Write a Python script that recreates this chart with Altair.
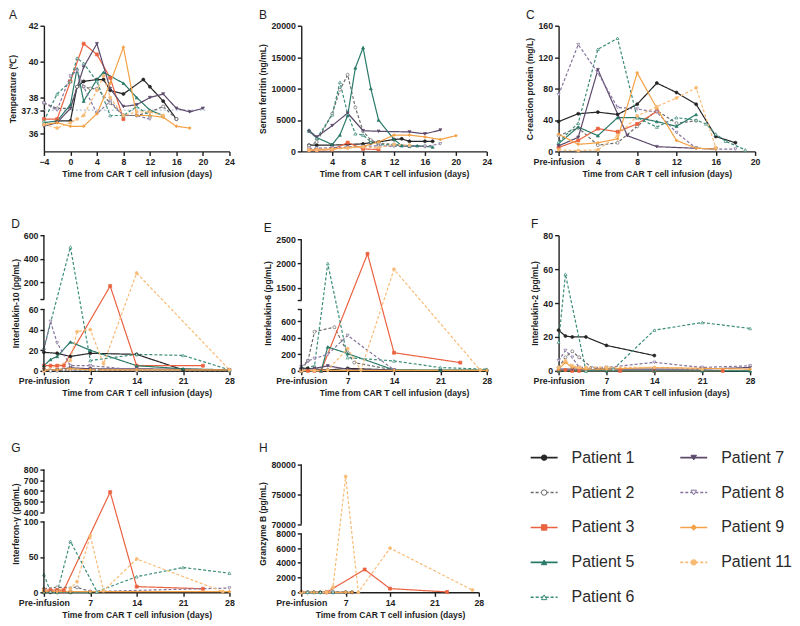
import altair as alt
import pandas as pd

FONT = "Liberation Sans"
INK = "#1e1e1e"

PATIENTS = ["Patient 1", "Patient 2", "Patient 3", "Patient 5", "Patient 6",
            "Patient 7", "Patient 8", "Patient 9", "Patient 11"]
LINE_COLORS = ["#262626", "#6b6b6b", "#ea6240", "#2a7a68", "#3a8c79",
               "#5c4a6c", "#84739c", "#f4a246", "#f8bb76"]
FILL_COLORS = ["#262626", "#ffffff", "#ea6240", "#2a7a68", "#ffffff",
               "#5c4a6c", "#ffffff", "#f4a246", "#f8bb76"]
SHAPES = ["circle", "circle", "square", "triangle-up", "triangle-up",
          "triangle-down", "triangle-down", "diamond", "circle"]
DASHES = [[1, 0], [3, 2], [1, 0], [1, 0], [3, 2], [1, 0], [3, 2], [1, 0], [3, 2]]

X_TITLE = "Time from CAR T cell infusion (days)"

# ---------------- data (days, values) ----------------
TEMP = {
    "Patient 1": ([-2, 0, 1, 2, 4, 5, 6, 8, 11, 12, 14, 16],
                  [36.7, 36.7, 38.6, 38.9, 39.0, 39.0, 38.4, 38.2, 39.0, 38.6, 37.8, 36.8]),
    "Patient 2": ([-4, -2, 0, 1, 2, 3, 4, 6, 8, 10, 12, 14, 16],
                  [37.7, 37.4, 37.4, 38.6, 38.6, 38.5, 38.5, 37.7, 37.0, 37.0, 37.2, 37.5, 36.8]),
    "Patient 3": ([-4, -2, 0, 2, 4, 6, 8],
                  [36.8, 36.8, 38.9, 41.0, 40.4, 39.1, 36.8]),
    "Patient 5": ([-4, -2, 0, 1, 2, 4, 5, 8, 10, 12, 14],
                  [36.6, 36.7, 37.6, 39.6, 37.8, 39.0, 39.4, 38.8, 38.0, 37.3, 37.0]),
    "Patient 6": ([-4, -2, 0, 1, 2, 4, 6, 8, 10, 12],
                  [36.7, 38.2, 38.9, 40.2, 39.9, 38.9, 37.0, 37.0, 37.5, 37.0]),
    "Patient 7": ([-4, -2, 0, 2, 4, 6, 8, 10, 12, 14, 16, 18, 20],
                  [36.4, 36.6, 37.4, 39.7, 41.0, 38.5, 37.5, 37.6, 38.0, 38.2, 37.4, 37.2, 37.4]),
    "Patient 8": ([-4, -2, 0, 1, 2, 4, 6, 8, 10, 12],
                  [37.7, 37.3, 39.2, 39.5, 38.6, 37.1, 37.8, 37.0, 37.0, 36.8]),
    "Patient 9": ([-4, -2, 0, 2, 4, 6, 8, 10, 12, 14, 16, 18],
                  [36.5, 36.6, 36.4, 36.4, 37.1, 38.8, 40.8, 37.0, 37.0, 36.9, 36.4, 36.3]),
    "Patient 11": ([-4, -2, 0, 1, 2, 4, 5, 6, 8, 10, 12, 14],
                   [36.5, 36.3, 36.6, 36.8, 37.0, 38.4, 39.2, 38.0, 37.0, 37.2, 37.2, 37.0]),
}
FERRITIN = {
    "Patient 1": ([1, 2, 4, 6, 8, 9, 10, 12, 13, 14, 16, 17],
                  [1000, 1000, 1000, 1100, 1200, 1400, 1500, 1900, 2000, 1600, 1600, 1600]),
    "Patient 2": ([1, 2, 4, 5, 6, 7, 8, 9, 10, 12, 14, 16],
                  [900, 1500, 6000, 9800, 12200, 7000, 3200, 1800, 1300, 1100, 900, 800]),
    "Patient 3": ([1, 2, 4, 6, 8, 10], [200, 200, 300, 1400, 400, 300]),
    "Patient 5": ([1, 2, 4, 5, 6, 7, 8, 9, 10, 12, 13, 14, 15, 17],
                  [3400, 2200, 1100, 2600, 5700, 13300, 16500, 10000, 5000, 1900, 900, 800, 900, 700]),
    "Patient 6": ([1, 2, 4, 5, 6, 7, 8, 9, 10, 12, 14],
                  [3200, 2100, 5800, 11000, 6000, 2800, 2600, 1500, 1100, 1000, 900]),
    "Patient 7": ([1, 2, 4, 6, 8, 10, 14, 16, 18],
                  [3200, 2300, 4100, 6100, 3300, 3200, 3100, 2800, 3400]),
    "Patient 8": ([1, 2, 4, 6, 8, 10, 12, 14, 16, 18],
                  [500, 500, 600, 700, 800, 900, 800, 800, 800, 1200]),
    "Patient 9": ([1, 2, 4, 6, 8, 10, 12, 14, 16, 18, 20],
                  [300, 300, 400, 600, 800, 1500, 2600, 2600, 2300, 1900, 2500]),
    "Patient 11": ([1, 2, 4, 6, 8, 10, 12, 14],
                   [200, 200, 300, 500, 700, 600, 1100, 1000]),
}
CRP = {
    "Patient 1": ([0, 2, 4, 6, 8, 10, 12, 14, 16, 18], [38, 48, 50, 47, 60, 87, 75, 60, 19, 11]),
    "Patient 2": ([0, 2, 4, 6, 8, 10, 12, 14], [20, 30, 8, 11, 32, 52, 36, 39]),
    "Patient 3": ([0, 2, 4, 6, 8, 10], [5, 14, 29, 25, 35, 51]),
    "Patient 5": ([0, 2, 4, 6, 8, 10, 12, 14], [10, 31, 20, 43, 43, 38, 32, 47]),
    "Patient 6": ([0, 2, 4, 6, 8, 10, 12, 14, 15, 16, 17, 19],
                  [12, 36, 130, 144, 43, 31, 43, 40, 35, 22, 13, 2]),
    "Patient 7": ([0, 2, 4, 7, 10, 14, 16], [7, 18, 104, 20, 6, 4, 3]),
    "Patient 8": ([0, 2, 4, 6, 8, 10, 12, 14, 16, 18], [72, 136, 100, 56, 54, 50, 24, 4, 3, 3]),
    "Patient 9": ([0, 2, 4, 6, 8, 10, 12, 14, 16], [22, 9, 11, 16, 100, 55, 14, 4, 3]),
    "Patient 11": ([0, 2, 4, 6, 8, 10, 12, 14, 16], [2, 1, 2, 20, 45, 57, 68, 81, 5]),
}
IL10 = {
    "Patient 1": ([0, 2, 4, 7, 14, 21, 28], [18, 17, 14, 17, 16, 1, 1]),
    "Patient 2": ([0, 1, 2, 3, 4, 7, 8, 14, 28], [0, 0, 0, 1, 1, 1, 1, 0, 0]),
    "Patient 3": ([0, 1, 2, 3, 10, 14, 24], [5, 5, 5, 5, 170, 5, 5]),
    "Patient 5": ([0, 1, 2, 4, 7, 14, 21, 28], [5, 11, 14, 28, 20, 5, 2, 1]),
    "Patient 6": ([0, 4, 7, 14, 21, 28], [22, 500, 10, 16, 15, 1]),
    "Patient 7": ([0, 2, 4, 7, 14, 28], [1, 1, 3, 2, 2, 1]),
    "Patient 8": ([0, 1, 2, 4, 7, 14], [20, 48, 27, 5, 5, 1]),
    "Patient 9": ([0, 2, 4, 7, 14, 28], [1, 1, 2, 1, 1, 1]),
    "Patient 11": ([0, 4, 5, 7, 9, 14, 28], [0, 10, 38, 40, 7, 280, 1]),
}
IL6 = {
    "Patient 1": ([0, 1, 4, 7, 14, 21, 28], [30, 30, 10, 30, 10, 5, 5]),
    "Patient 2": ([0, 1, 2, 5, 7, 8, 14], [20, 120, 475, 530, 220, 100, 10]),
    "Patient 3": ([0, 1, 2, 3, 10, 14, 24], [0, 0, 0, 0, 2200, 220, 100]),
    "Patient 5": ([0, 3, 4, 7, 14, 21, 28], [0, 0, 290, 210, 10, 10, 10]),
    "Patient 6": ([0, 2, 4, 7, 14, 21, 28], [30, 60, 2000, 160, 120, 40, 20]),
    "Patient 7": ([0, 2, 4, 7, 14], [20, 30, 60, 20, 10]),
    "Patient 8": ([0, 1, 2, 4, 7, 14], [50, 120, 150, 200, 430, 10]),
    "Patient 9": ([0, 2, 4, 7, 14, 28], [5, 5, 5, 5, 5, 5]),
    "Patient 11": ([0, 2, 4, 7, 9, 14, 27], [0, 0, 10, 270, 10, 1880, 10]),
}
IL2 = {
    "Patient 1": ([0, 1, 2, 4, 7, 14], [24, 20.5, 20, 20, 15, 9]),
    "Patient 2": ([0, 1, 2, 3, 5, 7, 8], [2, 8, 11.5, 8, 1.5, 1, 1]),
    "Patient 3": ([0, 1, 2, 3, 9, 14, 24], [0, 0.5, 0, 0, 0, 0, 0]),
    "Patient 5": ([0, 4, 7, 14, 21, 28], [0, 0, 0, 0, 0, 0]),
    "Patient 6": ([0, 1, 4, 8, 14, 21, 28], [17, 57, 0, 1, 24, 28.5, 25]),
    "Patient 7": ([0, 2, 7, 14, 21, 28], [1, 1, 1, 1, 1, 2]),
    "Patient 8": ([0, 1, 2, 3, 7, 14, 21, 28], [6, 12, 8, 2, 2, 5, 2, 3]),
    "Patient 9": ([0, 1, 2, 4, 7, 14, 28], [1, 5, 2, 1, 1, 2, 1]),
    "Patient 11": ([0, 1, 2, 3, 4, 7, 14, 21], [2, 6, 3, 2, 2, 2, 2, 1]),
}
IFNG = {
    "Patient 1": ([0, 1, 2, 4, 7], [0, 0, 0, 0, 0]),
    "Patient 2": ([0, 2, 5, 7], [5, 7, 7, 1]),
    "Patient 3": ([0, 1, 2, 3, 10, 14, 24], [3, 3, 3, 3, 590, 8, 5]),
    "Patient 5": ([0, 2, 4, 7], [0, 0, 0, 0]),
    "Patient 6": ([0, 1, 2, 4, 8, 14, 21, 28], [25, 1, 0, 72, 1, 22, 35, 27]),
    "Patient 8": ([0, 2, 4, 7, 28], [1, 1, 1, 1, 6]),
    "Patient 9": ([0, 2, 4, 7, 28], [1, 1, 1, 1, 1]),
    "Patient 11": ([0, 4, 5, 7, 9, 14, 27], [3, 5, 15, 80, 2, 47, 1]),
}
GZMB = {
    "Patient 1": ([0, 1, 2, 3, 5, 7, 8], [0, 0, 0, 0, 0, 0, 0]),
    "Patient 2": ([0, 1, 2, 4, 5, 7], [0, 0, 0, 0, 100, 0]),
    "Patient 3": ([0, 4, 10, 14, 23], [0, 0, 3100, 500, 50]),
    "Patient 6": ([0, 1, 2, 3, 5], [0, 0, 0, 0, 0]),
    "Patient 9": ([0, 2, 4, 7, 8], [0, 0, 0, 0, 0]),
    "Patient 11": ([0, 4, 5, 7, 9, 14, 27], [0, 0, 700, 78000, 0, 6000, 300]),
}

# tick labels
A_XTICKS = [-4, 0, 4, 8, 12, 16, 20, 24]
A_YTICKS = [36, 37.3, 38, 40, 42]
B_XTICKS = [4, 8, 12, 16, 20, 24]
B_YTICKS = [0, 5000, 10000, 15000, 20000]
C_XTICKS = [0, 4, 8, 12, 16, 20]
C_YTICKS = [0, 40, 80, 120, 160]
W_XTICKS = [0, 7, 14, 21, 28]
F_YTICKS = [0, 20, 40, 60, 80]
IL10_LOW = [("0", 0), ("20", 20), ("40", 40), ("60", 60)]
IL10_UP = [("", 60), ("200", 200), ("400", 400), ("600", 600)]
IL6_LOW = [("0", 0), ("200", 200), ("400", 400), ("600", 600), ("", 750)]
IL6_UP = [("", 1250), ("1500", 1500), ("2000", 2000), ("2500", 2500)]
IFNG_LOW = [("0", 0), ("50", 50), ("100", 100)]
IFNG_UP = [("400", 400), ("500", 500), ("600", 600), ("700", 700), ("800", 800)]
GZMB_LOW = [("0", 0), ("2000", 2000), ("4000", 4000), ("6000", 6000), ("8000", 8000)]
GZMB_UP = [("70000", 70000), ("75000", 75000), ("80000", 80000)]

PRE_EXPR = "datum.value == 0 ? 'Pre-infusion' : datum.label"

STROKE = alt.Stroke("patient:N", scale=alt.Scale(domain=PATIENTS, range=LINE_COLORS), legend=None)
DASH = alt.StrokeDash("patient:N", scale=alt.Scale(domain=PATIENTS, range=DASHES), legend=None)
SHAPE = alt.Shape("patient:N", scale=alt.Scale(domain=PATIENTS, range=SHAPES), legend=None)
FILL = alt.Fill("patient:N", scale=alt.Scale(domain=PATIENTS, range=FILL_COLORS), legend=None)


def long_df(series):
    rows = []
    for p, (days, vals) in series.items():
        for d, v in zip(days, vals):
            rows.append({"patient": p, "day": d, "value": v})
    return pd.DataFrame(rows)


def title(letter):
    return alt.TitleParams(letter, anchor="start", fontSize=12, fontWeight="normal",
                           font=FONT, color=INK, offset=0)


def x_enc(domain, values, pre):
    kw = dict(values=values, title=X_TITLE)
    if pre:
        kw["labelExpr"] = PRE_EXPR
    return alt.X("day:Q", scale=alt.Scale(domain=domain, nice=False, zero=False), axis=alt.Axis(**kw))


def data_layers(base, x, y):
    line = base.mark_line(strokeWidth=1.2).encode(x=x, y=y, stroke=STROKE, strokeDash=DASH)
    pts = base.mark_point(filled=True, size=9, strokeWidth=0.7, opacity=1).encode(
        x=x, y=y, shape=SHAPE, fill=FILL, stroke=STROKE)
    return [line, pts]


def simple_panel(series, letter, ytitle, xdom, xticks, pre, ydom, yticks, w, h, fmt, extra=None):
    x = x_enc(xdom, xticks, pre)
    y = alt.Y("value:Q", scale=alt.Scale(domain=ydom, nice=False, zero=False),
              axis=alt.Axis(values=yticks, title=ytitle, format=fmt))
    base = alt.Chart(long_df(series))
    layers = data_layers(base, x, y)
    if extra is not None:
        layers = [extra(x, y)] + layers
    return alt.layer(*layers).properties(width=w, height=h, title=title(letter))


def broken_panel(series, letter, ytitle, lo_max, up_min, up_max, hL, gap, hU, w, h, low_ticks, up_ticks):
    expr = (f"datum.value <= {lo_max} ? datum.value / {lo_max} * {hL} : "
            f"(datum.value < {up_min} ? {hL} + (datum.value - {lo_max}) / {max(up_min - lo_max, 1)} * {gap} : "
            f"{hL + gap} + (datum.value - {up_min}) / {up_max - up_min} * {hU})")
    pos, labs = [], []
    for lab, v in low_ticks:
        pos.append(round(v / lo_max * hL, 3))
        labs.append(lab)
    for lab, v in up_ticks:
        pos.append(round(hL + gap + (v - up_min) / (up_max - up_min) * hU, 3))
        labs.append(lab)
    lexpr = " : ".join(f"datum.value == {p} ? '{l}'" for p, l in zip(pos, labs)) + " : ''"
    x = x_enc([0, 28], W_XTICKS, True)
    y = alt.Y("yt:Q", scale=alt.Scale(domain=[0, h], nice=False, zero=False),
              axis=alt.Axis(values=pos, labelExpr=lexpr, domain=False, title=ytitle))
    base = alt.Chart(long_df(series)).transform_calculate(yt=expr)
    layers = data_layers(base, x, y)
    seg = pd.DataFrame({"yt": [0, hL + gap], "yt2": [hL, hL + gap + hU]})
    rules = alt.Chart(seg).mark_rule(color=INK, strokeWidth=1.4).encode(
        x=alt.value(0), y=y, y2="yt2:Q")
    return alt.layer(*layers, rules).properties(width=w, height=h, title=title(letter))


def ref_line(x, y):
    df = pd.DataFrame({"day": [-4], "day2": [20.5], "value": [37.3]})
    return alt.Chart(df).mark_rule(color="#9db3c9", strokeWidth=1, strokeDash=[2, 2]).encode(
        x=x, x2="day2:Q", y=y)


W1, W2, W3 = 186, 186, 197
H1, H2, H3 = 126, 136, 138

pA = simple_panel(TEMP, "A", "Temperature (℃)", [-4, 24], A_XTICKS, False, [35, 42], A_YTICKS,
                  W1, H1, ".1~f", extra=ref_line)
pB = simple_panel(FERRITIN, "B", "Serum ferritin (ng/mL)", [0, 24], B_XTICKS, False, [0, 20000],
                  B_YTICKS, W2, H1, "d")
pC = simple_panel(CRP, "C", "C-reaction protein (mg/L)", [0, 20], C_XTICKS, True, [0, 160],
                  C_YTICKS, W3, H1, "d")
pD = broken_panel(IL10, "D", "Interleukin-10 (pg/mL)", 60, 60, 600, 62, 10, 64, W1, H2, IL10_LOW, IL10_UP)
pE = broken_panel(IL6, "E", "Interleukin-6 (pg/mL)", 750, 1250, 2500, 62, 9, 61, W2, H2, IL6_LOW, IL6_UP)
pF = simple_panel(IL2, "F", "Interleukin-2 (pg/mL)", [0, 28], W_XTICKS, True, [0, 80], F_YTICKS,
                  192, H2, "d")
pG = broken_panel(IFNG, "G", "Interferon-γ (pg/mL)", 100, 400, 800, 71, 9, 43, W1, H3, IFNG_LOW, IFNG_UP)
pH = broken_panel(GZMB, "H", "Granzyme B (pg/mL)", 8000, 70000, 80000, 59, 9, 60, 178, H3, GZMB_LOW, GZMB_UP)

# custom legend
leg = []
for i, p in enumerate(PATIENTS):
    c, r = (0, i) if i < 5 else (1, i - 5)
    x0 = -28 if c == 0 else 122
    leg.append({"patient": p, "lx0": x0, "lx1": x0 + 27, "lxm": x0 + 13.5,
                "tx": x0 + 41, "ly": 3 + 35 * r})
leg_df = pd.DataFrame(leg)
lxs = alt.Scale(domain=[0, W3], nice=False, zero=False)
lys = alt.Scale(domain=[0, H3], nice=False, zero=False, reverse=True)
lbase = alt.Chart(leg_df)
l_rule = lbase.mark_rule(strokeWidth=1.6).encode(
    x=alt.X("lx0:Q", scale=lxs, axis=None), x2="lx1:Q",
    y=alt.Y("ly:Q", scale=lys, axis=None), stroke=STROKE, strokeDash=DASH)
l_pt = lbase.mark_point(filled=True, size=30, strokeWidth=1, opacity=1).encode(
    x=alt.X("lxm:Q", scale=lxs, axis=None), y=alt.Y("ly:Q", scale=lys, axis=None),
    shape=SHAPE, fill=FILL, stroke=STROKE)
l_txt = lbase.mark_text(align="left", baseline="middle", fontSize=16, font=FONT,
                        color="#2a2a2a").encode(
    x=alt.X("tx:Q", scale=lxs, axis=None), y=alt.Y("ly:Q", scale=lys, axis=None),
    text="patient:N")
legend = alt.layer(l_rule, l_pt, l_txt).properties(width=W3, height=H3)

chart = alt.concat(pA, pB, pC, pD, pE, pF, pG, pH, legend, columns=3,
                   spacing={"row": 84, "column": 72}, bounds="flush").properties(
    padding={"left": 0, "top": 0, "right": 0, "bottom": 0},
).configure_axis(
    labelFont=FONT, titleFont=FONT, labelFontSize=8.8, titleFontSize=8.6,
    labelFontWeight="bold", titleFontWeight="bold", labelColor=INK, titleColor=INK,
    domainColor=INK, tickColor=INK, domainWidth=1.4, tickWidth=1.4, tickSize=4,
    grid=False, labelPadding=2, titlePadding=3, labelFlush=False, labelOverlap=False,
).configure_view(stroke=None)

chart.save("out.html", embed_options={"renderer": "svg", "actions": False})
